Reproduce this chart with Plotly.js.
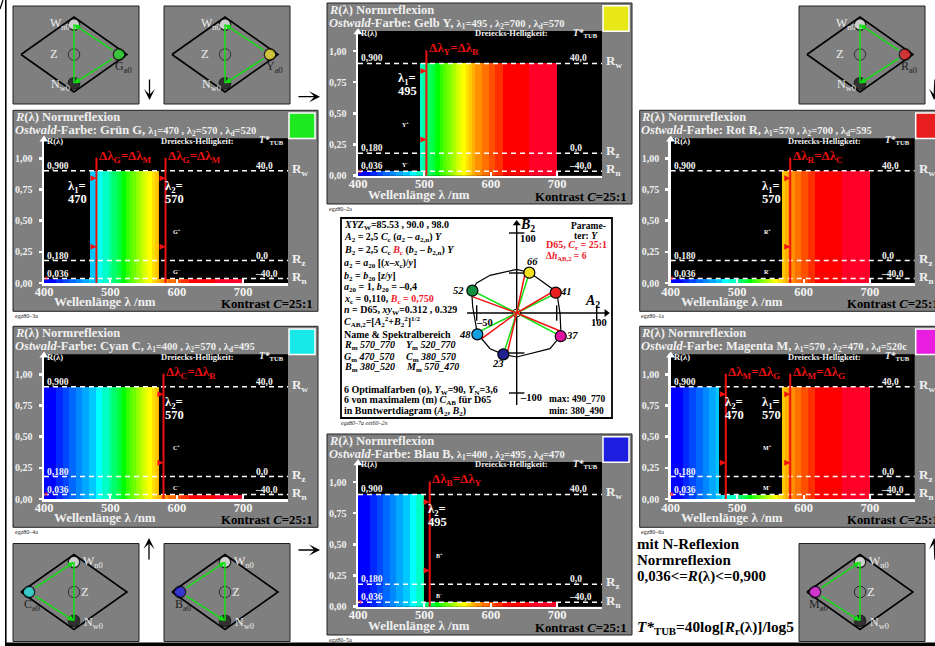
<!DOCTYPE html>
<html><head><meta charset="utf-8">
<style>html,body{margin:0;padding:0;background:#fff;overflow:hidden}#c{width:935px;height:646px}</style>
<script src="https://cdn.plot.ly/plotly-3.0.1.min.js"></script></head>
<body><div id="c"></div>
<script>
// ---------- data ----------
const bandEdges=[400,418,428,438,448,458,468,478,488,498,503,508,513,518,523,528,533,538,543,548,552,557,562,567,572,577,587,597,607,618,658,700];
const bandColors=['#0000ff','#0028ff','#0048ff','#0068ff','#0088ff','#00a8ff','#00c8ff','#00ffff','#00ffc8','#00ff90','#00ff70','#00ff50','#00ff30','#00ff00','#30ff00','#50ff00','#70ff00','#90ff00','#b0ff00','#d0ff00','#e8ff00','#ffff00','#ffe000','#ffc800','#ffb000','#ff9000','#ff7000','#ff5000','#ff3000','#ff0000','#ff0028'];
const levelR=[0.036,0.18,0.9];
const levelLeft=['0,036','0,180','0,900'];
const levelRight=['–40,0','0,0','40,0'];
const levelNames=['R<sub>n</sub>','R<sub>z</sub>','R<sub>w</sub>'];
const xTicks=[400,500,600,700];
const yTicks=[0,0.25,0.5,0.75,1];
const yTickText=['0,00','0,25','0,50','0,75','1,00'];

const panelIds=['Y','G','R','C','B','M'];
const panelNames=['Gelb Y','Grün G','Rot R','Cyan C','Blau B','Magenta M'];
const panelLambda=[['1','495','2','700','d','570'],['1','470','2','570','d','520'],['1','570','2','700','d','595'],['1','400','2','570','d','495'],['1','400','2','495','d','470'],['1','570','2','470','d','520c']];
const panelWindows=[[[493,700]],[[470,573]],[[568,700]],[[400,573]],[[400,499]],[[400,473],[568,700]]];
const panelRedLines=[[503],[479,583],[580],[580],[508],[483,580]];
const panelDeltaText=[['Y','B'],['G','M'],['R','C'],['C','R'],['B','Y'],['M','G']];
const panelLabels=['2a','3a','1a','4a','5a','6a'];
const panelMarks=['2','3','1','4','5','6'];
const swatchColors=['#e8e818','#1ee81e','#e81e1e','#18e8e8','#1e1ee0','#e81ee0'];

const diamondIds=['G','Y','R','C','B','M'];
const diamondSide=[0.85,0.85,0.85,-0.85,-0.85,-0.85];
const diamondColors=['#20e020','#f0e020','#f01818','#20e8e8','#1818f0','#f018f0'];
const diamondOutlineX=[-1,0,1,0,-1];
const diamondOutlineY=[0,1,0,-1,0];
const whiteY=0.8, neutralY=-0.77;

const chromaA=[15.8,48.8,55,-16.7,-49.2,-55.4];
const chromaB=[50.4,25.4,-29,-51.7,-26.7,27.9];
const chromaColors=['#f0e020','#e82020','#e010a0','#202090','#10a0e0','#109040'];
const chromaLabels=['66','41','37','23','48','52'];
const redEndA=[10.4,47.9,54.2,-11.2,-43.8,-56.3];
const redEndB=[49.2,28.3,-22.5,-47.5,-32.1,20.8];
const greenEndA=[15.8,45.8,55,-16.7,-43.8,-55.4];
const greenEndB=[50.4,22.9,-29,-51.7,-21.7,27.9];
const hullA=[0,-33.3,-50,-56.3,-55,-49.2,-33.3,-16.7,0,16.7,41.7,55.4,54.2,50,41.7,16.7,0];
const hullB=[54.6,47.1,37.5,28.3,7.5,-25.8,-44.6,-51.7,-55,-50.8,-44.6,-27.9,-0.8,26.3,32.5,50.4,54.6];
const axisTicksA=[-50,50,100];
const axisTicksB=[-100,-50,50,100];

const textLines=[
 '<i>XYZ</i><sub>W</sub>=85.53 , 90.0 , 98.0',
 '<i>A</i><sub>2</sub> = 2,5 <i>C</i><sub>c</sub> (<i>a</i><sub>2</sub> – <i>a</i><sub>2,n</sub>) <i>Y</i>',
 '<i>B</i><sub>2</sub> = 2,5 <i>C</i><sub>c</sub> <span style="color:#f01828"><i>B</i><sub>c</sub></span> (<i>b</i><sub>2</sub> – <i>b</i><sub>2,n</sub>) <i>Y</i>',
 '<i>a</i><sub>2</sub> = <i>a</i><sub>20</sub> [(<i>x</i>–<i>x</i><sub>c</sub>)/<i>y</i>]',
 '<i>b</i><sub>2</sub> = <i>b</i><sub>20</sub> [<i>z</i>/<i>y</i>]',
 '<i>a</i><sub>20</sub> = 1, <i>b</i><sub>20</sub> = –0,4',
 '<i>x</i><sub>c</sub> = 0,110, <span style="color:#f01828"><i>B</i><sub>c</sub> = 0,750</span>',
 '<i>n</i> = D65, <i>xy</i><sub>W</sub>=0.312 , 0.329',
 '<i>C</i><sub>AB,2</sub>=[<i>A</i><sub>2</sub><sup>2</sup>+<i>B</i><sub>2</sub><sup>2</sup>]<sup>1/2</sup>',
 'Name &amp; Spektralbereich',
 '<i>R</i><sub>m</sub> <i>570_770</i>',
 '<i>G</i><sub>m</sub> <i>470_570</i>',
 '<i>B</i><sub>m</sub> <i>380_520</i>',
 '6 Optimalfarben (o), <i>Y</i><sub>W</sub>=90, <i>Y</i><sub>N</sub>=3,6',
 '6 von maximalem (m) <i>C</i><sub>AB</sub> für D65',
 'in Buntwertdiagram (<i>A</i><sub>2</sub>, <i>B</i><sub>2</sub>)'];
const textColumn2=['<i>Y</i><sub>m</sub> <i>520_770</i>','<i>C</i><sub>m</sub> <i>380_570</i>','<i>M</i><sub>m</sub> <i>570_470</i>'];

// ---------- layout helpers ----------
const W=935,H=646,FONT='"Liberation Serif","Times New Roman",serif';
const px=x=>x/W, py=y=>1-y/H;
const shapes=[],ann=[],traces=[];
const layout={width:W,height:H,margin:{l:0,r:0,t:0,b:0},autosize:false,paper_bgcolor:'#fff',plot_bgcolor:'rgba(0,0,0,0)',showlegend:false,hovermode:false,bargap:0,barmode:'overlay'};
function T(x,y,text,size,color,anchor){ann.push({xref:'paper',yref:'paper',x:px(anchor?x:x-1.5),y:py(y),text:text,showarrow:false,xanchor:anchor||'left',yanchor:'middle',borderpad:0,font:{family:FONT,size:size,color:color}});}
function rect(x0,y0,x1,y1,fill,lc,lw){shapes.push({type:'rect',xref:'paper',yref:'paper',x0:px(x0),x1:px(x1),y0:py(y0),y1:py(y1),fillcolor:fill,line:{color:lc||fill,width:lw===undefined?0:lw},layer:'below'});}
function seg(x0,y0,x1,y1,c,w){shapes.push({type:'line',xref:'paper',yref:'paper',x0:px(x0),x1:px(x1),y0:py(y0),y1:py(y1),line:{color:c,width:w},layer:'above'});}
function arrowP(x0,y0,x1,y1){ann.push({xref:'paper',yref:'paper',axref:'pixel',ayref:'pixel',x:px(x1),y:py(y1),ax:x0-x1,ay:y0-y1,text:'',showarrow:true,arrowhead:3,arrowsize:1.4,arrowwidth:1.3,arrowcolor:'#000'});}
let sub=0;
function newAxes(x0,x1,y0,y1,xr,yr,extraX,extraY){
  sub++;const k=sub===1?'':sub;
  layout['xaxis'+k]=Object.assign({domain:[px(x0),px(x1)],range:xr,anchor:'y'+k,visible:false,fixedrange:true,showgrid:false,zeroline:false},extraX||{});
  layout['yaxis'+k]=Object.assign({domain:[py(y1),py(y0)],range:yr,anchor:'x'+k,visible:false,fixedrange:true,showgrid:false,zeroline:false},extraY||{});
  return ['x'+k,'y'+k];
}
// ---------- outer frame ----------
rect(5,-2,6.6,648,'#000');
rect(5,642.5,940,650,'#000');
seg(0,9,3,0,'#000',1.2);
arrowP(149.5,78,149.5,100);
arrowP(297,96.7,320,96.7);
arrowP(149,561,149,538);
arrowP(297,550,320,550);
arrowP(937,78,937,100);
arrowP(937,561,937,538);

// ---------- spectral panels ----------
const panelOrigin=[[358,175.7],[44,283],[670.7,283],[44,499],[358,606.7],[670.7,499]];
const lambdaLabelPos=[[[49,'1','495']],[[33.3,'1','470'],[130,'2','570']],[[100.3,'1','570']],[[130,'2','570']],[[79,'2','495']],[[63.5,'2','470'],[100.3,'1','570']]];
const starX=[47,132.7,97,132.7,81,97];
const SX=0.664,SY=124.7,PW=244,PH=144.7;

function segments(windows){
  const e=new Set(bandEdges);windows.forEach(w=>{e.add(w[0]);e.add(w[1]);});
  const s=[...e].sort((a,b)=>a-b),out={x:[],w:[],y:[],c:[]};
  for(let i=0;i<s.length-1;i++){
    const m=(s[i]+s[i+1])/2;let b=0;
    for(let j=0;j<bandColors.length;j++) if(m>=bandEdges[j]&&m<bandEdges[j+1]) b=j;
    const hi=windows.some(w=>m>=w[0]&&m<=w[1]);
    out.x.push(m);out.w.push(s[i+1]-s[i]+0.12);out.y.push(hi?levelR[2]:levelR[0]);out.c.push(bandColors[b]);
  }
  return out;
}
panelIds.forEach((id,i)=>{
  const [ox,oy]=panelOrigin[i];
  rect(ox-31,oy-172.7,ox+274,oy+28.3,'#7f7f7f','#222',1);
  rect(ox,oy-PH,ox+PW,oy,'#000');
  rect(ox+245,oy-170,ox+271,oy-144.5,swatchColors[i],'#fff',1.5);
  const xr=[400,400+PW/SX],yr=[0,PH/SY];
  const [xa,ya]=newAxes(ox,ox+PW,oy-PH,oy,xr,yr,
   {visible:true,showline:true,linecolor:'#fff',linewidth:2.5,ticks:'inside',ticklen:4,tickwidth:2,tickcolor:'#fff',tickmode:'array',tickvals:xTicks,ticktext:xTicks.map(v=>'<b>'+v+'</b>'),tickfont:{family:FONT,size:12.5,color:'#f4f4f4'},ticklabelstandoff:-5},
   {visible:true,showline:true,linecolor:'#fff',linewidth:2.5,ticks:'outside',ticklen:3,tickwidth:2.5,tickcolor:'#fff',tickmode:'array',tickvals:yTicks,ticktext:yTickText.map(v=>'<b>'+v+'</b>'),tickfont:{family:FONT,size:10,color:'#f0f0f0'},ticklabelstandoff:4});
  const s=segments(panelWindows[i]);
  traces.push({type:'bar',xaxis:xa,yaxis:ya,x:s.x,y:s.y,width:s.w,marker:{color:s.c,line:{width:0}},hoverinfo:'skip'});
  levelR.forEach(r=>traces.push({type:'scatter',mode:'lines',xaxis:xa,yaxis:ya,x:[400,xr[1]+4],y:[r,r],cliponaxis:false,line:{color:'#fff',width:1.6,dash:'5px,4px'},hoverinfo:'skip'}));
  traces.push({type:'scatter',mode:'markers',xaxis:xa,yaxis:ya,x:[xr[1]+1],y:[0],cliponaxis:false,marker:{symbol:'triangle-right',size:8,color:'#fff'},hoverinfo:'skip'});
  traces.push({type:'scatter',mode:'markers',xaxis:xa,yaxis:ya,x:[400],y:[yr[1]-0.01],cliponaxis:false,marker:{symbol:'triangle-up',size:8,color:'#fff'},hoverinfo:'skip'});
  const dt=panelDeltaText[i];
  panelRedLines[i].forEach(l=>{
    traces.push({type:'scatter',mode:'lines',xaxis:xa,yaxis:ya,x:[l,l],y:[0,1.005],line:{color:'#f01010',width:2},hoverinfo:'skip'});
    [0.84,0.29].forEach(h=>ann.push({xref:xa,yref:ya,axref:xa,ayref:ya,x:l,y:h,ax:l-10,ay:h,text:'',showarrow:true,arrowhead:2,arrowsize:0.75,arrowwidth:1.6,arrowcolor:'#f01010',standoff:0}));
    const lx=ox+(l-400)*SX+3;
    T(lx,oy-127,'<b>Δλ<sub>'+dt[0]+'</sub>=Δλ<sub>'+dt[1]+'</sub></b>',13,'#e81010');
  });
  // headings
  const L=panelLambda[i];
  T(ox-29,oy-165.7,'<b><i>R</i>(λ) Normreflexion</b>',12.5,'#f0f0f0');
  T(ox-29,oy-152.4,'<b><i>Ostwald</i>-Farbe: '+panelNames[i]+', <span style="font-size:10.5px">λ<sub>'+L[0]+'</sub>='+L[1]+' , λ<sub>'+L[2]+'</sub>='+L[3]+' , λ<sub>'+L[4]+'</sub>='+L[5]+'</span></b>',12.5,'#f0f0f0');
  T(ox+3.7,oy-142.4,'<b>R(λ)</b>',8.5,'#f0f0f0');
  T(ox+117.7,oy-142.4,'<b>Dreiecks-Helligkeit:</b>',8.5,'#f0f0f0');
  T(ox+215,oy-142.4,'<b><i>T*</i></b><sub><b>TUB</b></sub>',9.5,'#f0f0f0');
  levelR.forEach((r,j)=>{
    const yy=oy-r*SY;
    T(ox+3.7,yy-5,'<b>'+levelLeft[j]+'</b>',9.5,'#f0f0f0');
    T(ox+(j===0?211:212),yy-5,'<b>'+levelRight[j]+'</b>',9.5,'#f0f0f0');
  });
  T(ox+248.7,oy-114,'<b>'+levelNames[2]+'</b>',13,'#f0f0f0');
  T(ox+248.7,oy-24,'<b>'+levelNames[1]+'</b>',13,'#f0f0f0');
  T(ox+248.7,oy-5.7,'<b>'+levelNames[0]+'</b>',13,'#f0f0f0');
  T(ox+10.3,oy+19.3,'<b>Wellenlänge λ /nm</b>',12.9,'#f0f0f0');
  T(ox+177,oy+21,'<b>Kontrast <i>C</i>=25:1</b>',12.8,'#000');
  T(ox-29,oy+33.3,'egz80–'+panelLabels[i],6,'#222');
  lambdaLabelPos[i].forEach(p=>{
    T(ox+p[0],oy-96.5,'<b>λ<sub>'+p[1]+'</sub>=</b>',12.5,'#fff','center');
    T(ox+p[0],oy-84.5,'<b>'+p[2]+'</b>',12.5,'#fff','center');
  });
  T(ox+starX[i],oy-52,'<b>'+id+'<sup>+</sup></b>',6,'#fff','center');
  T(ox+starX[i],oy-11.7,'<b>'+id+'<sup>–</sup></b>',6,'#fff','center');
  T(ox,oy-5,'<b>'+panelMarks[i]+'</b>',7,'#f01010');
});

// ---------- diamond panels ----------
const diamondCenter=[[74,54.5],[225,54.5],[860,54.5],[74,592],[225,592],[860,592]];
diamondIds.forEach((id,i)=>{
  const [cx,cy]=diamondCenter[i];
  rect(cx-61,cy-48.5,cx+65,cy+49.5,'#7f7f7f','#222',1);
  const [xa,ya]=newAxes(cx-61,cx+65,cy-48.5,cy+49.5,[-61/53,65/53],[-49.5/37.5,48.5/37.5]);
  const side=diamondSide[i];
  traces.push({type:'scatter',mode:'lines',xaxis:xa,yaxis:ya,x:diamondOutlineX,y:diamondOutlineY,line:{color:'#000',width:1.6},hoverinfo:'skip'});
  traces.push({type:'scatter',mode:'markers',xaxis:xa,yaxis:ya,x:[0,0,0,side],y:[whiteY,0,neutralY,0],marker:{size:[11.5,11.5,11.5,11.5],color:['#f0f0f0','rgba(0,0,0,0)','#111',diamondColors[i]],line:{color:'#000',width:[1.3,0.9,1.3,1.3]}},hoverinfo:'skip'});
  traces.push({type:'scatter',mode:'lines',xaxis:xa,yaxis:ya,x:[0,0],y:[neutralY,whiteY],line:{color:'#10e010',width:1.5},hoverinfo:'skip'});
  [whiteY,neutralY].forEach(v=>ann.push({xref:xa,yref:ya,axref:xa,ayref:ya,x:0,y:v,ax:side,ay:0,text:'',showarrow:true,arrowhead:2,arrowsize:0.8,arrowwidth:1.5,arrowcolor:'#10e010',standoff:0,startstandoff:6}));
  const wy=cy-30,ny=cy+31;
  if(side>0){
    T(cx-14,wy,'W<sub>n0</sub>',12,'#eee','center');
    T(cx-14,ny,'N<sub>w0</sub>',12,'#eee','center');
    T(cx-20,cy,'Z',12.5,'#eee','center');
    T(cx+49,cy+12.5,id+'<sub>a0</sub>',12,'#222','center');
  }else{
    T(cx+19,wy,'W<sub>n0</sub>',12,'#eee','center');
    T(cx+19,ny,'N<sub>w0</sub>',12,'#eee','center');
    T(cx+11,cy,'Z',12.5,'#eee','center');
    T(cx-42,cy+13,id+'<sub>a0</sub>',12,'#222','center');
  }
});

// ---------- colour plane ----------
rect(341,218,612,418,'#fff','#000',1.8);
const [ax,ay]=newAxes(341,612,218,418,[(341-516.7)/0.8,(612-516.7)/0.8],[(313-418)/0.8,(313-218)/0.8]);
const aLine=[-62,112], bLine=[-115,112];
const add=o=>traces.push(Object.assign({type:'scatter',xaxis:ax,yaxis:ay,hoverinfo:'skip'},o));
add({mode:'lines',x:aLine,y:[0,0],line:{color:'#000',width:1.4}});
add({mode:'lines',x:[0,0],y:bLine,line:{color:'#000',width:1.4}});
add({mode:'markers',x:[aLine[1]],y:[0],marker:{symbol:'triangle-right',size:7,color:'#000'}});
add({mode:'markers',x:[0],y:[bLine[1]],marker:{symbol:'triangle-up',size:7,color:'#000'}});
add({mode:'markers',x:axisTicksA,y:axisTicksA.map(()=>0),marker:{symbol:'line-ns',size:11,line:{color:'#000',width:1.4}}});
add({mode:'markers',x:axisTicksB.map(()=>0),y:axisTicksB,marker:{symbol:'line-ew',size:11,line:{color:'#000',width:1.4}}});
add({mode:'lines',x:hullA,y:hullB,line:{color:'#000',width:1.2}});
add({mode:'markers',x:[0],y:[0],marker:{size:8,color:'#eee',line:{color:'#000',width:1}}});
chromaA.forEach((a,i)=>{
  add({mode:'lines',x:[greenEndA[i],0],y:[greenEndB[i],0],line:{color:'#10e010',width:1.5}});
});
chromaA.forEach((a,i)=>{
  add({mode:'lines',x:[redEndA[i],0],y:[redEndB[i],0],line:{color:'#f01010',width:1.5}});
});
add({mode:'markers',x:chromaA,y:chromaB,marker:{size:11,color:chromaColors,line:{color:'#000',width:1.2}}});
const chromaLabelPos=[[532,261.7],[566,291.7],[571.7,335.7],[497.7,364],[465,334],[458,290]];
chromaLabels.forEach((t,i)=>T(chromaLabelPos[i][0],chromaLabelPos[i][1],'<b><i>'+t+'</i></b>',10.5,'#000','center'));
T(592,301,'<b><i>A</i><sub>2</sub></b>',14,'#000','center');
T(527,225,'<b><i>B</i><sub>2</sub></b>',14,'#000','center');
T(599,322,'<b>100</b>',10.5,'#000','center');
T(484,322,'<b>–50</b>',10.5,'#000','center');
T(528,238,'<b>100</b>',10.5,'#000','center');
T(531,397.5,'<b>–100</b>',10.5,'#000','center');
const lineY=[32,68,107,145,183,218,253,287,322,358,392,427,458,525,556,588];
textLines.forEach((t,i)=>T(344.3,215+lineY[i]/3,'<b>'+t+'</b>',10,'#000'));
textColumn2.forEach((t,i)=>T(406.7,215+lineY[10+i]/3,'<b>'+t+'</b>',10,'#000'));
T(571.7,225.7,'<b>Parame-</b>',9.5,'#000');
T(574,235.7,'<b>ter: <i>Y</i></b>',9.5,'#000');
T(546.7,245.7,'<b>D65, <i>C</i><sub>r</sub> = 25:1</b>',10,'#f01828');
T(546.7,256.7,'<b>Δ<i>h</i><sub>AB,2</sub> = 6</b>',9.5,'#f01828');
T(549,399,'<b>max: 490_770</b>',9.5,'#000');
T(549,410.7,'<b>min: 380_490</b>',9.5,'#000');
T(341.7,423,'<i>egz80–7a eet60–2n</i>',6,'#222');

// ---------- free text ----------
T(637,544,'<b>mit N-Reflexion</b>',15,'#000');
T(637,560,'<b>Normreflexion</b>',15,'#000');
T(637,576.7,'<b>0,036&lt;=<i>R</i>(λ)&lt;=0,900</b>',15,'#000');
T(637,627,'<b><i>T*</i><sub>TUB</sub>=40log[<i>R</i><sub>r</sub>(λ)]/log5</b>',15.3,'#000');

layout.shapes=shapes;layout.annotations=ann;
Plotly.newPlot('c',traces,layout,{staticPlot:true,displayModeBar:false});
</script></body></html>
